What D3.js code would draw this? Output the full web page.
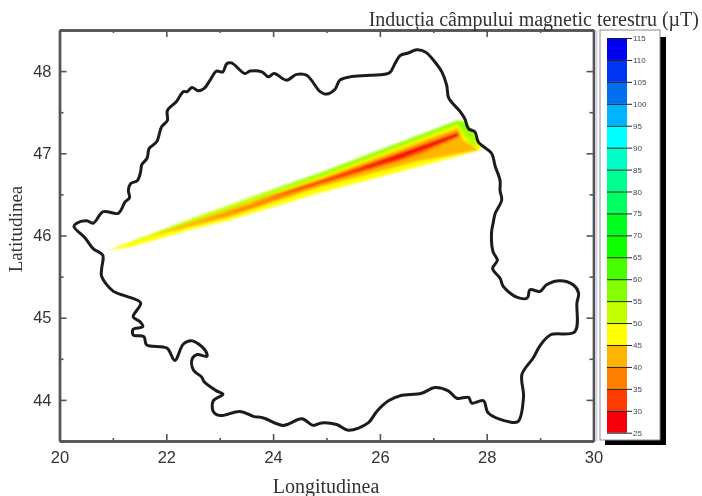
<!DOCTYPE html>
<html lang="ro">
<head>
    <meta charset="UTF-8">
    <title>Inducția câmpului magnetic terestru</title>
    <script src="https://d3js.org/d3.v7.min.js"></script>
    <style>
        html, body { margin: 0; padding: 0; background: #fff; }
        svg { display: block; filter: blur(0.55px); }
        .axis path, .axis line { stroke: #555; }
        .axis path { stroke-width: 2.4; }
        .axis line { stroke-width: 1.6; }
        .axis text { font: 16.5px "Liberation Sans", Arial, sans-serif; fill: #333; }
        .label { font-family: "Liberation Serif", serif; fill: #333; }
        .bar-axis path { display: none; }
        .bar-axis line { stroke: #222; stroke-width: 1; }
        .bar-axis text { font: 8px "Liberation Sans", Arial, sans-serif; fill: #445; }
    </style>
</head>
<body>
    <script>
        // contour levels of the colour bar (uT)
        const levels = [25, 30, 35, 40, 45, 50, 55, 60, 65, 70, 75, 80, 85, 90, 95, 100, 105, 110, 115]
        const palette = ["#f4000c", "#ff3c00", "#ff8000", "#ffb400", "#ffff00", "#c4ff00", "#84ff00", "#48ff00", "#10ff00",
                         "#00ff20", "#00ff60", "#00ff90", "#00ffc8", "#00ffff", "#00b4ff", "#0070f0", "#0034f0", "#0000f0"]

        const xMajor = [20, 22, 24, 26, 28, 30]
        const xMinor = [21, 23, 25, 27, 29]
        const yMajor = [44, 45, 46, 47, 48]
        const yMinor = [43.5, 44.5, 45.5, 46.5, 47.5, 48.5]

        // border, lon/lat
        const border = [
            [20.27,46.11],[20.32,46.15],[20.51,46.18],[20.63,46.15],[20.82,46.29],[21.10,46.27],[21.23,46.41],[21.31,46.46],
            [21.29,46.55],[21.33,46.63],[21.46,46.67],[21.52,46.78],[21.54,46.86],[21.64,46.94],[21.68,47.06],[21.82,47.14],
            [21.91,47.32],[22.02,47.40],[22.02,47.52],[22.19,47.63],[22.32,47.75],[22.39,47.75],[22.48,47.80],[22.60,47.76],
            [22.71,47.79],[22.82,47.89],[22.94,48.00],[23.06,47.99],[23.13,48.09],[23.22,48.10],[23.47,47.97],[23.57,48.00],
            [23.79,47.99],[23.91,47.93],[24.02,47.97],[24.25,47.89],[24.44,47.96],[24.63,47.95],[24.88,47.75],[25.00,47.72],
            [25.16,47.78],[25.25,47.89],[25.44,47.93],[25.81,47.95],[26.18,47.98],[26.28,48.09],[26.38,48.19],[26.53,48.22],
            [26.69,48.26],[26.86,48.23],[27.03,48.11],[27.16,47.99],[27.25,47.83],[27.29,47.67],[27.50,47.51],[27.59,47.42],
            [27.66,47.30],[27.78,47.26],[27.84,47.14],[27.94,47.08],[28.09,47.00],[28.16,46.84],[28.25,46.67],[28.25,46.55],
            [28.28,46.43],[28.16,46.27],[28.12,46.15],[28.09,46.03],[28.12,45.80],[28.20,45.70],[28.11,45.60],[28.25,45.48],
            [28.31,45.38],[28.56,45.25],[28.76,45.24],[28.81,45.34],[29.00,45.32],[29.12,45.40],[29.37,45.45],[29.62,45.40],
            [29.72,45.30],[29.69,45.18],[29.65,44.83],
            [29.19,44.79],[29.00,44.66],[28.87,44.51],[28.66,44.31],[28.69,44.04],[28.59,43.74],[28.44,43.73],[28.03,43.84],
            [27.94,43.99],[27.72,43.96],[27.66,44.03],[27.44,44.02],[27.28,44.11],[27.03,44.15],[26.78,44.08],[26.38,44.05],
            [26.16,43.99],[25.94,43.86],[25.78,43.72],[25.41,43.63],[25.19,43.70],[24.91,43.72],[24.75,43.69],[24.54,43.77],
            [24.19,43.69],[23.82,43.78],[23.63,43.80],[23.38,43.86],[23.01,43.81],[22.88,43.86],[22.88,43.99],[23.06,44.07],
            [22.94,44.11],[22.71,44.22],[22.66,44.28],[22.51,44.36],[22.48,44.49],[22.57,44.55],[22.76,44.53],[22.72,44.61],
            [22.48,44.72],[22.32,44.68],[22.16,44.48],[22.01,44.63],[21.63,44.67],[21.58,44.77],[21.38,44.79],[21.38,44.86],
            [21.56,44.89],[21.51,44.95],[21.38,45.01],[21.52,45.18],[21.26,45.26],[21.01,45.32],[20.79,45.50],[20.79,45.60],
            [20.81,45.76],[20.63,45.84],[20.48,45.97]
        ]

        // filled contours of the plume, painted in this order
        const plumeValues = [47, 52, 57, 42, 37, 32, 27]
        const plumeShapes = [
            [[20.91,45.82],[22.50,46.21],[24.50,46.67],[24.88,46.76],[27.46,47.40],[27.69,47.31],[27.93,47.08],[27.84,47.03],
             [24.88,46.52],[23.14,46.18],[22.50,46.08],[21.32,45.86]],
            [[21.13,45.87],[22.50,46.21],[24.88,46.76],[27.46,47.40],[27.59,47.39],[27.82,47.20],[27.87,47.09],[27.69,47.09],
             [27.44,47.33],[24.88,46.70],[22.50,46.16]],
            [[23.19,46.38],[24.88,46.76],[27.46,47.40],[27.61,47.37],[27.80,47.16],[27.69,47.20],[27.46,47.37],[24.88,46.74]],
            [[21.69,45.99],[24.88,46.69],[27.46,47.31],[27.56,47.16],[27.84,47.04],[26.75,46.91],[24.88,46.59],[23.14,46.22]],
            [[22.63,46.16],[24.88,46.66],[27.46,47.27],[27.50,47.21],[26.75,46.98],[24.88,46.62],[23.57,46.33]],
            [[23.57,46.40],[24.88,46.67],[27.46,47.25],[27.46,47.20],[26.38,46.92],[24.88,46.63]],
            [[25.44,46.77],[27.46,47.25],[27.46,47.21],[26.38,46.95]]
        ]

        const svg = d3.select("body").append("svg")
            .attr("width", 702)
            .attr("height", 496)

        svg.append("defs").append("filter")
            .attr("id", "soft")
            .append("feGaussianBlur")
            .attr("stdDeviation", 1)

        const x = d3.scaleLinear().domain([20, 30]).range([59.5, 593.5])
        const y = d3.scaleLinear().domain([43.5, 48.5]).range([441, 30])
        const color = d3.scaleThreshold().domain(levels.slice(1, -1)).range(palette)
        const line = d3.line().x(d => x(d[0])).y(d => y(d[1]))

        svg.append("g")
            .attr("filter", "url(#soft)")
            .selectAll("path")
            .data(plumeShapes)
            .enter().append("path")
            .attr("d", d => line(d) + "Z")
            .attr("fill", (d, i) => color(plumeValues[i]))

        svg.append("path")
            .attr("d", line.curve(d3.curveCatmullRomClosed)(border))
            .attr("fill", "none")
            .attr("stroke", "#1c1c1c")
            .attr("stroke-width", 3)
            .attr("stroke-linejoin", "round")

        // inward ticks on all four sides, labels only left and bottom
        function drawAxis(axisFn, scale, pos, values, size, pad) {
            svg.append("g")
                .attr("class", "axis")
                .attr("transform", pos)
                .call(axisFn(scale).tickValues(values).tickSizeOuter(0).tickSizeInner(size)
                    .tickPadding(pad).tickFormat(pad ? d3.format("d") : ""))
        }
        const atBottom = "translate(0,441)", atLeft = "translate(59.5,0)"
        const atTop = "translate(0,30)", atRight = "translate(593.5,0)"
        drawAxis(d3.axisBottom, x, atBottom, xMinor, -3, 0)
        drawAxis(d3.axisBottom, x, atBottom, xMajor, -7, 10)
        drawAxis(d3.axisLeft, y, atLeft, yMinor, -4, 0)
        drawAxis(d3.axisLeft, y, atLeft, yMajor, -7, 8)
        drawAxis(d3.axisTop, x, atTop, xMinor, -3, 0)
        drawAxis(d3.axisTop, x, atTop, xMajor, -7, 0)
        drawAxis(d3.axisRight, y, atRight, yMinor, -4, 0)
        drawAxis(d3.axisRight, y, atRight, yMajor, -7, 0)

        svg.append("text").attr("class", "label")
            .attr("x", 326).attr("y", 493)
            .attr("text-anchor", "middle")
            .style("font-size", "20px")
            .text("Longitudinea")

        svg.append("text").attr("class", "label")
            .attr("transform", "translate(22,229) rotate(-90)")
            .attr("text-anchor", "middle")
            .style("font-size", "19px")
            .text("Latitudinea")

        svg.append("text").attr("class", "label")
            .attr("x", 699).attr("y", 26)
            .attr("text-anchor", "end")
            .style("font-size", "20px")
            .text("Inducția câmpului magnetic terestru (µT)")

        // colour bar box with its drop shadow
        svg.append("rect").attr("x", 660).attr("y", 37).attr("width", 6).attr("height", 408).attr("fill", "#000")
        svg.append("rect").attr("x", 605).attr("y", 440).attr("width", 61).attr("height", 5).attr("fill", "#000")
        svg.append("rect").attr("x", 600).attr("y", 30).attr("width", 60).attr("height", 410)
            .attr("fill", "#fff").attr("stroke", "#889").attr("stroke-width", 1)
        svg.append("line").attr("x1", 596.5).attr("x2", 596.5).attr("y1", 30).attr("y2", 441)
            .attr("stroke", "#d8d8ea").attr("stroke-width", 2)

        const barY = d3.scaleLinear().domain([25, 115]).range([432.7, 38])
        svg.append("g").selectAll("rect")
            .data(levels.slice(0, -1))
            .enter().append("rect")
            .attr("x", 607)
            .attr("width", 20)
            .attr("y", (d, i) => barY(levels[i + 1]))
            .attr("height", (d, i) => barY(d) - barY(levels[i + 1]))
            .attr("fill", d => color(d))

        svg.append("g")
            .attr("class", "bar-axis")
            .attr("transform", "translate(607,0)")
            .call(d3.axisRight(barY).tickValues(levels).tickSize(25).tickPadding(1).tickFormat(d3.format("d")))
    </script>
</body>
</html>
